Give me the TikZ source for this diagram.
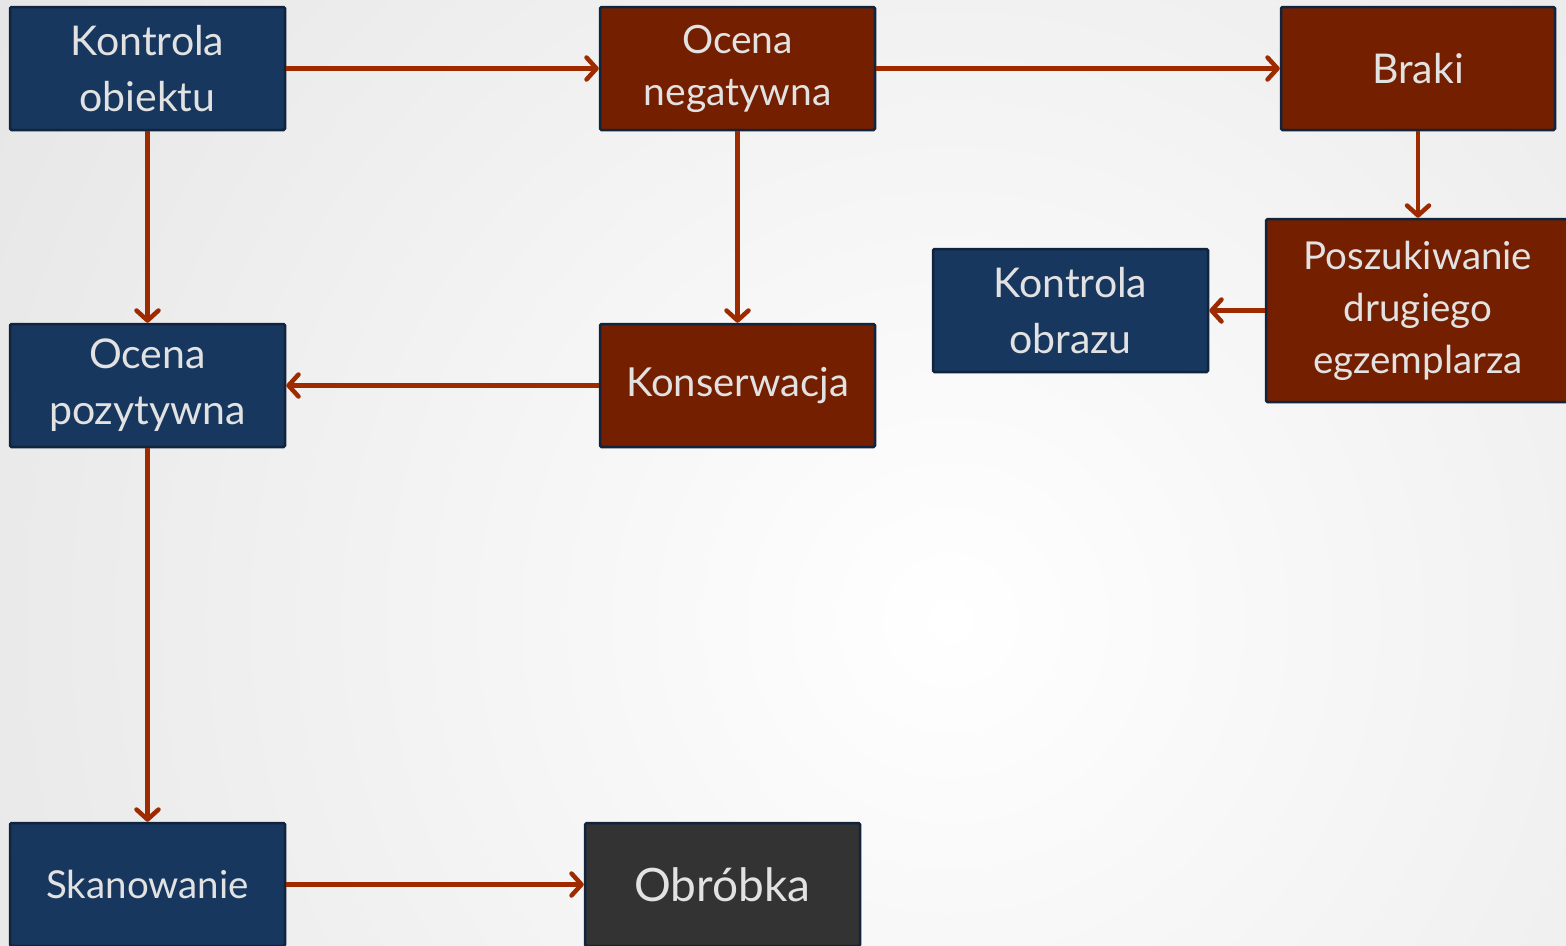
\documentclass[tikz,border=0pt]{standalone}
\usepackage{fontspec}
\setmainfont{Lato}
\usetikzlibrary{arrows.meta}
\definecolor{boxblue}{HTML}{17375E}
\definecolor{boxred}{HTML}{731F00}
\definecolor{boxgray}{HTML}{333333}
\definecolor{boxline}{HTML}{10243E}
\definecolor{arrowred}{HTML}{9E2A00}
\definecolor{txt}{HTML}{E2E2E2}
\begin{document}
\begin{tikzpicture}[x=1pt,y=-1pt,
  box/.style={draw=boxline, line width=2.5pt, rounded corners=1.5pt, text=txt,
    minimum width=275pt, minimum height=123pt, align=center, inner sep=0pt,
    font=\fontsize{41}{56}\selectfont},
  bluebox/.style={box, fill=boxblue},
  redbox/.style={box, fill=boxred},
  graybox/.style={box, fill=boxgray},
  conn/.style={draw=arrowred, line width=4.5pt, -{Straight Barb[round,length=10pt,width=22pt,line width=4.5pt]}}
]
\clip (0,0) rectangle (1566,945);
\useasboundingbox (0,0) rectangle (1566,945);
\shade[inner color=white, outer color=gray!20] (950,620) circle (1150);

\node[bluebox] (ko) at (147.5,68.5) {Kontrola\\obiektu};
\node[redbox, font=\fontsize{39}{52}\selectfont] (on) at (737.5,68.5) {Ocena\\negatywna};
\node[redbox, minimum width=274pt] (br) at (1418,68.5) {Braki};
\node[redbox, minimum width=304pt, minimum height=183pt, font=\fontsize{38.5}{52}\selectfont] (pd) at (1418,310.5) {Poszukiwanie\\drugiego\\egzemplarza};
\node[bluebox] (kob) at (1070.5,310.5) {Kontrola\\obrazu};
\node[bluebox] (op) at (147.5,385.5) {Ocena\\pozytywna};
\node[redbox, font=\fontsize{40}{52}\selectfont] (kon) at (737.5,385.5) {Konserwacja};
\node[bluebox, font=\fontsize{38.5}{46}\selectfont] (sk) at (147.5,884.5) {Skanowanie};
\node[graybox, font=\fontsize{46}{54}\selectfont] (obr) at (722.5,884.5) {Obróbka};

\draw[conn] (ko.east) -- (on.west);
\draw[conn] (on.east) -- (br.west);
\draw[conn] (ko.south) -- (op.north);
\draw[conn] (on.south) -- (kon.north);
\draw[conn] (kon.west) -- (op.east);
\draw[conn] (br.south) -- (pd.north);
\draw[conn] (pd.west) -- (kob.east);
\draw[conn] (op.south) -- (sk.north);
\draw[conn] (sk.east) -- (obr.west);
\end{tikzpicture}
\end{document}
